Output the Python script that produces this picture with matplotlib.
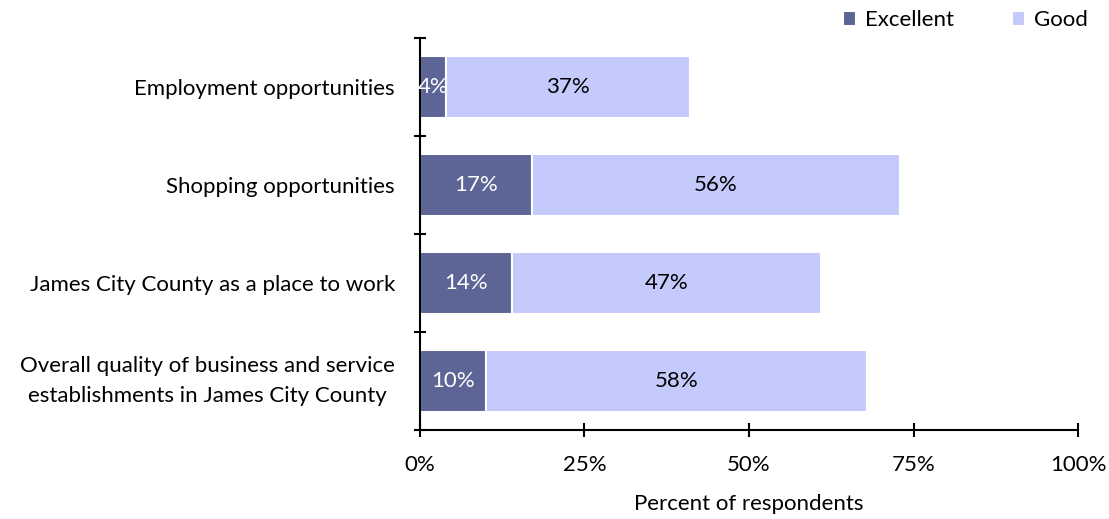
import matplotlib.pyplot as plt
import numpy as np

plt.rcParams['font.family'] = ['Lato', 'DejaVu Sans']

categories = ["Employment opportunities",
              "Shopping opportunities",
              "James City County as a place to work",
              "Overall quality of business and service\nestablishments in James City County"]
excellent = [4, 17, 14, 10]
good = [37, 56, 47, 58]
xticks = [0, 25, 50, 75, 100]

c_exc = '#5C6596'
c_good = '#C5CAFC'

fig = plt.figure(figsize=(11.09, 5.19), dpi=100)
ax = fig.add_axes([0.3787, 0.1715, 0.5934, 0.7553])

y = np.arange(len(categories))
ax.barh(y, excellent, height=0.63, color=c_exc, edgecolor='white', linewidth=1.5, label='Excellent')
ax.barh(y, good, left=excellent, height=0.63, color=c_good, edgecolor='white', linewidth=1.5, label='Good')

for i in range(len(categories)):
    ax.text(excellent[i] / 2, y[i], f"{excellent[i]}%", ha='center', va='center',
            color='white', fontsize=16)
    ax.text(excellent[i] + good[i] / 2, y[i], f"{good[i]}%", ha='center', va='center',
            color='black', fontsize=16)

ax.set_xlim(0, 100)
ax.set_ylim(3.5, -0.5)
ax.set_xticks(xticks)
ax.set_xticklabels([f"{t}%" for t in xticks], fontsize=16)
ax.set_yticks(y)
ax.set_yticklabels(categories, fontsize=16, multialignment='center')
for lbl in ax.get_yticklabels():
    if '\n' in lbl.get_text():
        lbl.set_linespacing(1.6)
        lbl.set_va('center')
ax.tick_params(axis='y', which='major', length=0, pad=18)
ax.set_yticks(np.arange(-0.5, 4, 1), minor=True)
ax.tick_params(axis='y', which='minor', direction='inout', length=8, width=1.5)
ax.tick_params(axis='x', direction='inout', length=10, width=1.5, pad=13)
ax.set_xlabel('Percent of respondents', fontsize=16, labelpad=14)

for s in ['top', 'right']:
    ax.spines[s].set_visible(False)
for s in ['left', 'bottom']:
    ax.spines[s].set_linewidth(1.5)

ax.legend(loc='center right', bbox_to_anchor=(1.045, 1.045), ncol=2, frameon=False,
          fontsize=16, handlelength=0.6, handleheight=0.6, columnspacing=2.6,
          handletextpad=0.4)

fig.savefig('out.png', dpi=100)
